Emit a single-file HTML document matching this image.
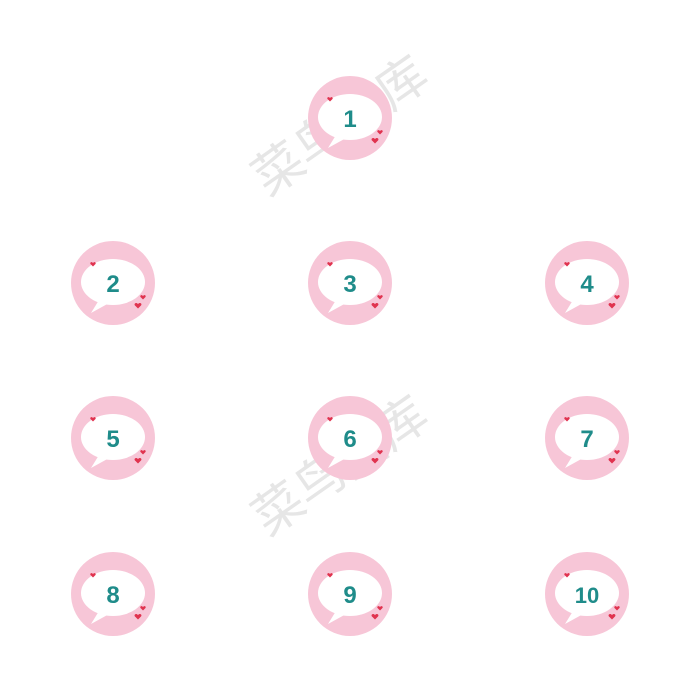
<!DOCTYPE html>
<html><head><meta charset="utf-8"><style>
html,body{margin:0;padding:0;background:#fff;}
svg{display:block}
text.n{font-family:"Liberation Sans",sans-serif;font-weight:bold;fill:#1f8c8a;text-anchor:middle}
text.w{font-family:"Liberation Sans","Noto Sans CJK SC",sans-serif;fill:#e6e6e6;text-anchor:middle}
</style></head><body>
<svg width="700" height="700" viewBox="0 0 700 700" xmlns="http://www.w3.org/2000/svg">
<defs>
<g id="b">
<circle r="42" fill="#f7c6d7"/>
<path d="M-14,17 L-22,30 L-2,19 Z" fill="#fff"/>
<ellipse cx="0" cy="-1" rx="32" ry="23" fill="#fff"/>
<g fill="#e0334f">
<path d="M-20,-20 c-1.5,-2 -4,0 -2,1.5 l2,2 l2,-2 c2,-1.5 -0.5,-3.5 -2,-1.5z"/>
<path d="M30,13 c-1.5,-2 -4,0 -2,1.5 l2,2 l2,-2 c2,-1.5 -0.5,-3.5 -2,-1.5z"/>
<path d="M25,21 c-2,-2.5 -5,0 -2.5,2 l2.5,2.5 l2.5,-2.5 c2.5,-2 -0.5,-4.5 -2.5,-2z"/>
</g>
</g>
</defs>
<text class="w" x="350" y="140" font-size="50" transform="rotate(-35 350 140)">菜鸟图库</text>
<text class="w" x="350" y="480" font-size="50" transform="rotate(-35 350 480)">菜鸟图库</text>
<use href="#b" x="350" y="118"/><text class="n" x="350" y="127" font-size="24">1</text>
<use href="#b" x="113" y="283"/><text class="n" x="113" y="292" font-size="24">2</text>
<use href="#b" x="350" y="283"/><text class="n" x="350" y="292" font-size="24">3</text>
<use href="#b" x="587" y="283"/><text class="n" x="587" y="292" font-size="24">4</text>
<use href="#b" x="113" y="438"/><text class="n" x="113" y="447" font-size="24">5</text>
<use href="#b" x="350" y="438"/><text class="n" x="350" y="447" font-size="24">6</text>
<use href="#b" x="587" y="438"/><text class="n" x="587" y="447" font-size="24">7</text>
<use href="#b" x="113" y="594"/><text class="n" x="113" y="603" font-size="24">8</text>
<use href="#b" x="350" y="594"/><text class="n" x="350" y="603" font-size="24">9</text>
<use href="#b" x="587" y="594"/><text class="n" x="587" y="603" font-size="22">10</text>
</svg>
</body></html>
